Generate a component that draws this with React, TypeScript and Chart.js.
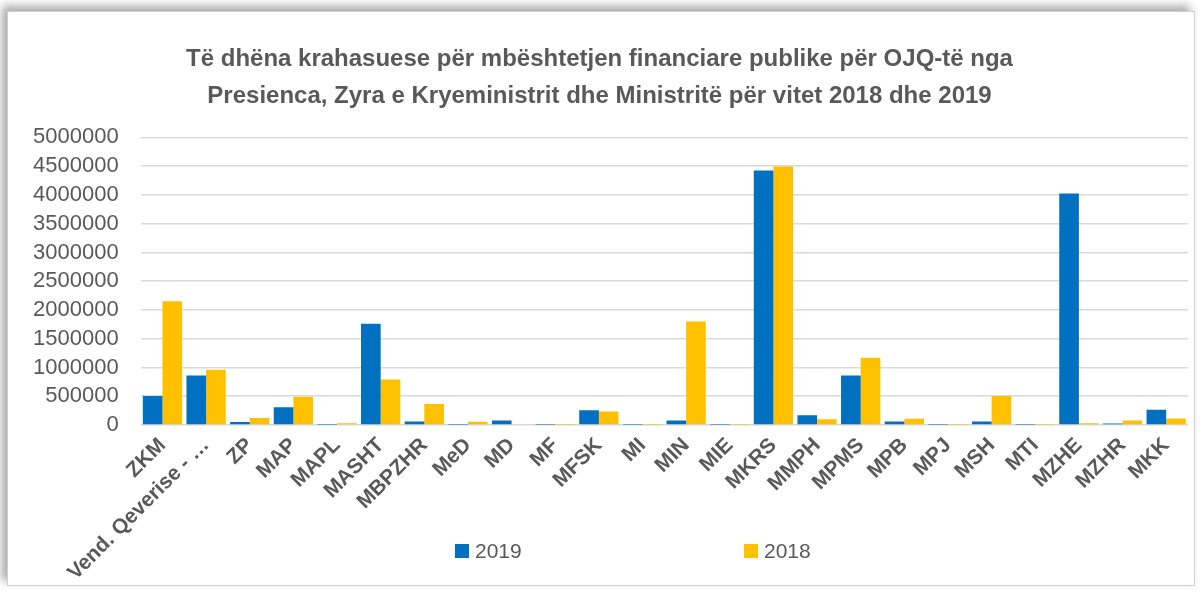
import React, { useEffect, useRef } from "react";
import { Chart, registerables } from "chart.js";

Chart.register(...registerables);

const categories = [
  "ZKM", "Vend. Qeverise - …", "ZP", "MAP", "MAPL", "MASHT", "MBPZHR", "MeD", "MD", "MF",
  "MFSK", "MI", "MIN", "MIE", "MKRS", "MMPH", "MPMS", "MPB", "MPJ", "MSH", "MTI", "MZHE",
  "MZHR", "MKK",
];

const values2019 = [
  505000, 860000, 50000, 310000, 6000, 1760000, 60000, 4000, 80000, 5000,
  255000, 5000, 80000, 5000, 4425000, 170000, 860000, 60000, 5000, 60000, 5000, 4025000,
  25000, 265000,
];

const values2018 = [
  2150000, 960000, 120000, 490000, 30000, 790000, 365000, 55000, 0, 5000,
  235000, 5000, 1800000, 5000, 4495000, 100000, 1170000, 110000, 5000, 505000, 5000, 30000,
  80000, 115000,
];

const seriesLabels = ["2019", "2018"];
const yTicksMax = 5000000;
const yTicksStep = 500000;

const titleLines = [
  "Të dhëna krahasuese për mbështetjen financiare publike për OJQ-të nga",
  "Presienca, Zyra e Kryeministrit dhe Ministritë për vitet 2018 dhe 2019",
];

const FONT = '"Liberation Sans", Arial, sans-serif';
const TEXT = "#595959";

const spacedLegend = {
  id: "spacedLegend",
  afterDraw(chart: any) {
    const ctx = chart.ctx;
    const xs = [455, 744];
    ctx.save();
    chart.data.datasets.forEach((ds: any, i: number) => {
      const x = xs[i];
      ctx.fillStyle = ds.backgroundColor;
      ctx.fillRect(x, 544, 14, 14);
      ctx.fillStyle = TEXT;
      ctx.font = `21px ${FONT}`;
      ctx.textBaseline = "middle";
      ctx.textAlign = "left";
      ctx.fillText(ds.label, x + 20, 552);
    });
    ctx.restore();
  },
};

export default function App() {
  const ref = useRef<HTMLCanvasElement>(null);

  useEffect(() => {
    if (!ref.current) return;
    const chart = new Chart(ref.current, {
      type: "bar",
      data: {
        labels: categories,
        datasets: [
          { label: seriesLabels[0], data: values2019, backgroundColor: "#0070C0", categoryPercentage: 0.9, barPercentage: 1 },
          { label: seriesLabels[1], data: values2018, backgroundColor: "#FFC000", categoryPercentage: 0.9, barPercentage: 1 },
        ],
      },
      options: {
        animation: false,
        responsive: false,
        layout: { padding: { left: 11, right: 16, top: 12, bottom: 14 } },
        plugins: {
          legend: { display: false },
          tooltip: { enabled: false },
          title: {
            display: true,
            text: titleLines,
            color: TEXT,
            font: { family: FONT, size: 24, weight: "bold", lineHeight: 1.55 },
            padding: { top: 29, bottom: 22 },
          },
        },
        scales: {
          x: {
            grid: { display: false, drawTicks: false },
            border: { display: false },
            afterFit: (s: any) => {
              s.height = 155;
            },
            ticks: {
              autoSkip: false,
              maxRotation: 45,
              minRotation: 45,
              padding: 8,
              color: TEXT,
              font: { family: FONT, size: 21, weight: "bold" },
            },
          },
          y: {
            min: 0,
            max: yTicksMax,
            border: { display: false },
            grid: { color: "#d9d9d9", lineWidth: 1.5, drawTicks: false },
            ticks: {
              stepSize: yTicksStep,
              autoSkip: false,
              padding: 22,
              color: TEXT,
              font: { family: FONT, size: 22 },
              callback: (v: any) => String(v),
            },
          },
        },
      },
      plugins: [spacedLegend],
    });
    return () => chart.destroy();
  }, []);

  return (
    <div style={{ position: "fixed", inset: 0, background: "#fff", overflow: "hidden" }}>
      <div
        style={{
          position: "absolute",
          left: 7,
          top: 11,
          right: 9,
          bottom: 8,
          background: "#fff",
          border: "1px solid #d0d0d0",
          boxShadow: "-5px -5px 9px rgba(0,0,0,0.35)",
        }}
      />
      <canvas ref={ref} width={1204} height={594} style={{ position: "absolute", left: 0, top: 0 }} />
    </div>
  );
}
